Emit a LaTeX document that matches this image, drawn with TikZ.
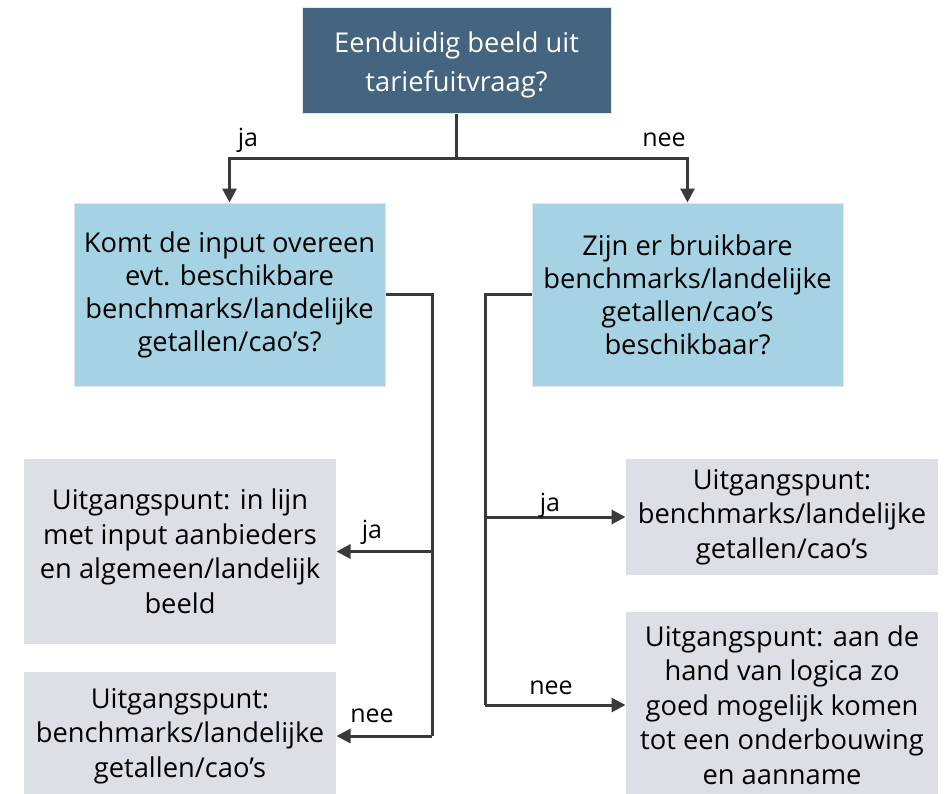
\documentclass[tikz,border=0pt]{standalone}
\usepackage{fontspec}
\setmainfont{Open Sans}
\usetikzlibrary{arrows.meta}
\definecolor{topfill}{HTML}{44647F}
\definecolor{bluefill}{HTML}{A6D3E3}
\definecolor{grayfill}{HTML}{DCE0E6}
\definecolor{edgecol}{HTML}{E2E6EC}
\definecolor{linecol}{HTML}{3A3A3A}
\tikzset{
  box/.style={rectangle, draw=edgecol, line width=1pt, align=center, inner sep=0pt,
    font=\fontsize{27.3}{33}\selectfont},
  topbox/.style={box, fill=topfill, text=white, minimum width=309pt, minimum height=106pt,
    font=\fontsize{27.3}{39}\selectfont},
  qbox/.style={box, fill=bluefill, text=black, minimum width=311pt, minimum height=183pt},
  abox/.style={box, fill=grayfill, draw=none, text=black, minimum width=312pt,
    font=\fontsize{27.3}{34.5}\selectfont},
  conn/.style={draw=linecol, line width=3pt},
  arr/.style={conn, -{Triangle[length=14pt,width=14pt]}},
  lbl/.style={font=\fontsize{25}{28}\selectfont, inner sep=0pt}
}
\begin{document}
\begin{tikzpicture}[x=1pt,y=-1pt]
\path[use as bounding box] (0,0) rectangle (947,793);
\begin{scope}
\clip (0,0) rectangle (947,793);
\node[topbox] (top) at (456.5,60) {\rule{0pt}{30pt}Eenduidig beeld uit\\tariefuitvraag?};
\node[qbox] (lb) at (229.5,294.5) {Komt de input overeen\\evt. beschikbare\\benchmarks/landelijke\\getallen/cao’s?};
\node[qbox] (rb) at (687.5,294.5) {Zijn er bruikbare\\benchmarks/landelijke\\getallen/cao’s\\beschikbaar?};
\node[abox, minimum height=185pt] (lg1) at (180,551.5) {Uitgangspunt: in lijn\\met input aanbieders\\en algemeen/landelijk\\beeld};
\node[abox, minimum height=128pt] (lg2) at (180,736) {Uitgangspunt:\\benchmarks/landelijke\\getallen/cao’s};
\node[abox, minimum height=116pt] (rg1) at (782,517) {Uitgangspunt:\\benchmarks/landelijke\\getallen/cao’s};
\node[abox, minimum height=186pt] (rg2) at (782,705) {Uitgangspunt: aan de\\hand van logica zo\\goed mogelijk komen\\tot een onderbouwing\\en aanname};
\end{scope}

\coordinate (hy) at (0,158);
\coordinate (lx) at (432,0);
\coordinate (rx) at (485,0);

\draw[conn] (top.south) -- (top.south |- hy);
\draw[arr] (top.south |- hy) -| (lb.north);
\draw[arr] (top.south |- hy) -| (rb.north);

\draw[conn] (lb.east) -| (lx |- lg2.east);
\draw[arr] (lx |- lg1.east) -- (lg1.east);
\draw[arr] (lx |- lg2.east) -- (lg2.east);

\draw[conn] (rb.west) -| (rx |- rg2.center);
\draw[arr] (rx |- rg1.center) -- (rg1.west);
\draw[arr] (rx |- rg2.center) -- (rg2.west);

\node[lbl] (l1) at (248,140) {ja};
\node[lbl] (l2) at (664,140) {nee};
\node[lbl] (l3) at (372,532) {ja};
\node[lbl] (l4) at (372,716) {nee};
\node[lbl] (l5) at (550,505) {ja};
\node[lbl] (l6) at (551,688) {nee};
\end{tikzpicture}
\end{document}
